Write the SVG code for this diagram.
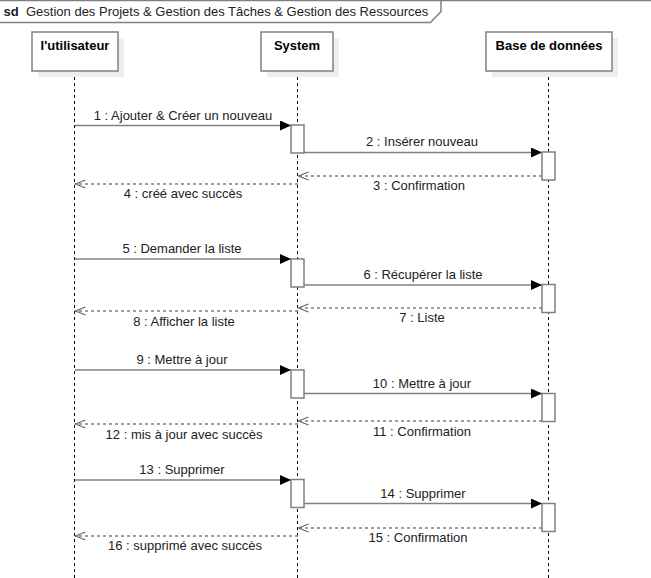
<svg xmlns="http://www.w3.org/2000/svg" width="651" height="578" viewBox="0 0 651 578">
  <style>
    .frame { fill: none; stroke: #808080; stroke-width: 1.5; }
    .hdr { fill: #ffffff; stroke: #808080; stroke-width: 1.5; }
    .shadow { fill: #eeeeee; stroke: none; }
    .box { fill: #ffffff; stroke: #808080; stroke-width: 1.5; }
    .lname { font-family: "Liberation Sans", Arial, sans-serif; font-size: 13px; font-weight: bold; fill: #000000; text-anchor: middle; }
    .title { font-family: "Liberation Sans", Arial, sans-serif; font-size: 13px; fill: #222222; }
    .lifeline { stroke: #000000; stroke-width: 1; stroke-dasharray: 3,3; fill: none; }
    .act { fill: #ffffff; stroke: #808080; stroke-width: 1.5; }
    .msg { stroke: #808080; stroke-width: 1.4; fill: none; marker-end: url(#filled); }
    .ret { stroke: #808080; stroke-width: 1.4; stroke-dasharray: 3,3; fill: none; marker-end: url(#open); }
    .lbl { font-family: "Liberation Sans", Arial, sans-serif; font-size: 13px; fill: #222222; text-anchor: middle; }
  </style>
  <defs>
    <marker id="filled" markerUnits="userSpaceOnUse" markerWidth="12" markerHeight="11" refX="11" refY="5" orient="auto" viewBox="0 0 12 11">
      <path d="M0,0 L11,5 L0,10 Z" fill="#000000"/>
    </marker>
    <marker id="open" markerUnits="userSpaceOnUse" markerWidth="12" markerHeight="11" refX="10.5" refY="5" orient="auto" viewBox="0 0 12 11">
      <path d="M0,1 L10,5 L0,9" fill="none" stroke="#666666" stroke-width="1.3"/>
    </marker>
  </defs>

  <g id="frame">
    <rect class="frame" x="-2" y="0.5" width="700" height="700"/>
    <path class="hdr" d="M-2,0.5 L441,0.5 L441,11.5 L430.5,22.5 L-2,22.5 Z"/>
    <text class="title" x="3.5" y="15.5" font-weight="bold" fill="#000000">sd</text>
    <text class="title" x="26" y="15.5">Gestion des Projets &amp; Gestion des Tâches &amp; Gestion des Ressources</text>
  </g>

  <g id="lifelines">
    <line class="lifeline" x1="74.5" y1="71" x2="74.5" y2="578"/>
    <line class="lifeline" x1="297.5" y1="71" x2="297.5" y2="578"/>
    <line class="lifeline" x1="548.5" y1="71" x2="548.5" y2="578"/>
  </g>

  <g id="utilisateur">
    <rect class="shadow" x="38" y="38" width="86" height="39"/>
    <rect class="box" x="32" y="32" width="86" height="39"/>
    <text class="lname" x="75" y="49.5">l'utilisateur</text>
  </g>
  <g id="system">
    <rect class="shadow" x="267" y="38" width="72" height="39"/>
    <rect class="box" x="261" y="32" width="72" height="39"/>
    <text class="lname" x="297" y="49.5">System</text>
  </g>
  <g id="base">
    <rect class="shadow" x="492" y="38" width="126" height="39"/>
    <rect class="box" x="486" y="32" width="126" height="39"/>
    <text class="lname" x="549" y="49.5">Base de données</text>
  </g>

  <g id="connectors">
    <line class="msg" x1="75" y1="125.5" x2="291" y2="125.5"/>
    <line class="msg" x1="304" y1="152.5" x2="542" y2="152.5"/>
    <line class="ret" x1="542" y1="176" x2="298" y2="176"/>
    <line class="ret" x1="298" y1="184" x2="75" y2="184"/>

    <line class="msg" x1="75" y1="259" x2="291" y2="259"/>
    <line class="msg" x1="304" y1="285" x2="542" y2="285"/>
    <line class="ret" x1="542" y1="308" x2="298" y2="308"/>
    <line class="ret" x1="298" y1="311" x2="75" y2="311"/>

    <line class="msg" x1="75" y1="370" x2="291" y2="370"/>
    <line class="msg" x1="304" y1="393.5" x2="542" y2="393.5"/>
    <line class="ret" x1="542" y1="421" x2="298" y2="421"/>
    <line class="ret" x1="298" y1="424" x2="75" y2="424"/>

    <line class="msg" x1="75" y1="480" x2="291" y2="480"/>
    <line class="msg" x1="304" y1="503.5" x2="542" y2="503.5"/>
    <line class="ret" x1="542" y1="528" x2="298" y2="528"/>
    <line class="ret" x1="298" y1="536" x2="75" y2="536"/>
  </g>

  <g id="activations">
    <rect class="act" x="291" y="125" width="13" height="28"/>
    <rect class="act" x="542" y="152" width="13" height="28"/>
    <rect class="act" x="291" y="259" width="13" height="28"/>
    <rect class="act" x="542" y="284.5" width="13" height="28"/>
    <rect class="act" x="291" y="370" width="13" height="28"/>
    <rect class="act" x="542" y="393.5" width="13" height="28"/>
    <rect class="act" x="291" y="479.5" width="13" height="28"/>
    <rect class="act" x="542" y="503.5" width="13" height="28"/>
  </g>

  <g id="labels">
    <text class="lbl" x="183" y="120">1 : Ajouter &amp; Créer un nouveau</text>
    <text class="lbl" x="422" y="146">2 : Insérer nouveau</text>
    <text class="lbl" x="419" y="190">3 : Confirmation</text>
    <text class="lbl" x="183" y="198">4 : créé avec succès</text>

    <text class="lbl" x="182" y="253">5 : Demander la liste</text>
    <text class="lbl" x="423" y="279">6 : Récupérer la liste</text>
    <text class="lbl" x="422" y="322">7 : Liste</text>
    <text class="lbl" x="184" y="326">8 : Afficher la liste</text>

    <text class="lbl" x="182" y="364">9 : Mettre à jour</text>
    <text class="lbl" x="422" y="388">10 : Mettre à jour</text>
    <text class="lbl" x="422" y="436">11 : Confirmation</text>
    <text class="lbl" x="184" y="438.5">12 : mis à jour avec succès</text>

    <text class="lbl" x="182" y="474">13 : Supprimer</text>
    <text class="lbl" x="423" y="498">14 : Supprimer</text>
    <text class="lbl" x="418" y="542">15 : Confirmation</text>
    <text class="lbl" x="185" y="550">16 : supprimé avec succès</text>
  </g>
</svg>
